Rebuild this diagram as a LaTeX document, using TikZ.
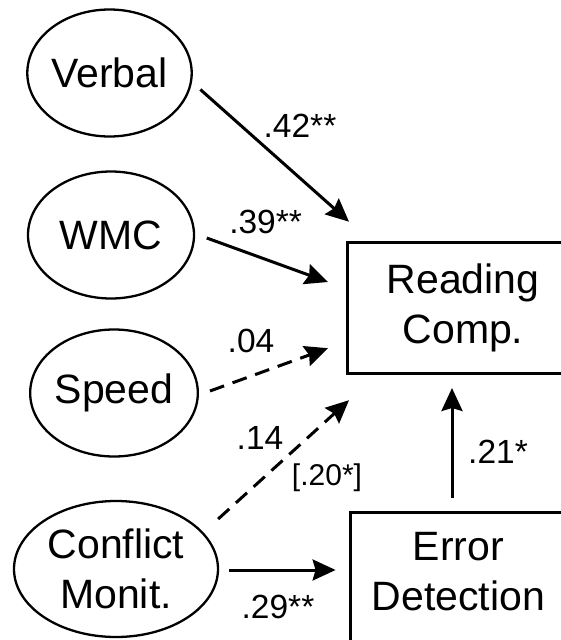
\documentclass[tikz,border=0pt]{standalone}
\usepackage{fontspec}
\setmainfont{Liberation Sans}
\usetikzlibrary{arrows.meta,shapes.geometric}
\begin{document}
\begin{tikzpicture}[x=1pt,y=-1pt,
  latent/.style={ellipse,draw,line width=2.3pt,inner sep=0pt,minimum width=164pt,minimum height=127pt,font=\fontsize{41}{50}\selectfont,align=center},
  obsbox/.style={rectangle,draw,line width=3pt,inner sep=0pt,anchor=north west},
  boxtext/.style={font=\fontsize{41}{50}\selectfont,align=center,inner sep=0pt},
  coef/.style={font=\fontsize{33.5}{40}\selectfont,anchor=base,inner sep=0pt},
  smallcoef/.style={coef,font=\fontsize{30}{36}\selectfont},
  arr/.style={line width=3pt,-{Stealth[length=23pt,width=21pt,inset=3pt]}},
  dasharr/.style={arr,dash pattern=on 15pt off 9pt}]
\useasboundingbox (0,0) rectangle (561,640);
\clip (0,0) rectangle (561,640);
% latent variables
\node[latent] (vb) at (109.5,73) {Verbal};
\node[latent,minimum width=166pt] (wm) at (111,235) {WMC};
\node[latent] (sp) at (114,393) {Speed};
\node[latent,minimum width=204pt,minimum height=136pt] (cm) at (116,569) {Conflict\\Monit.};
% observed boxes
\node[obsbox,minimum width=280pt,minimum height=131.5pt] (rc) at (346,240.7) {};
\node[boxtext] (rct) at (463,307.5) {Reading\\Comp.};
\node[obsbox,minimum width=280pt,minimum height=200pt] (ed) at (349,510.7) {};
\node[boxtext] (edt) at (458.5,572) {Error\\Detection};
% paths
\draw[arr] ([shift={(7.5,16.5)}]vb.east) -- ([shift={(3,-19)}]rc.north west);
\draw[arr] ([shift={(11.6,3)}]wm.east) -- ([shift={(-18,41.3)}]rc.north west);
\draw[dasharr] ([shift={(11,-2)}]sp.east) -- ([shift={(-18,-27)}]rc.south west);
\draw[dasharr] ([shift={(-1,-50)}]cm.east) -- ([shift={(3,25)}]rc.south west);
\draw[arr] ([shift={(10,1)}]cm.east) -- ([shift={(-13.4,59.3)}]ed.north west);
\draw[arr] ([shift={(103,-12.7)}]ed.north west) -- ([shift={(106,12.8)}]rc.south west);
% coefficients
\node[coef] (c1) at (300,137) {.42**};
\node[coef] (c2) at (265.6,233) {.39**};
\node[coef] (c3) at (251,352) {.04};
\node[coef] (c4) at (260,449) {.14};
\node[smallcoef] (c5) at (327,485.7) {[.20*]};
\node[coef] (c6) at (498,463) {.21*};
\node[coef] (c7) at (278,618) {.29**};
\end{tikzpicture}
\end{document}
